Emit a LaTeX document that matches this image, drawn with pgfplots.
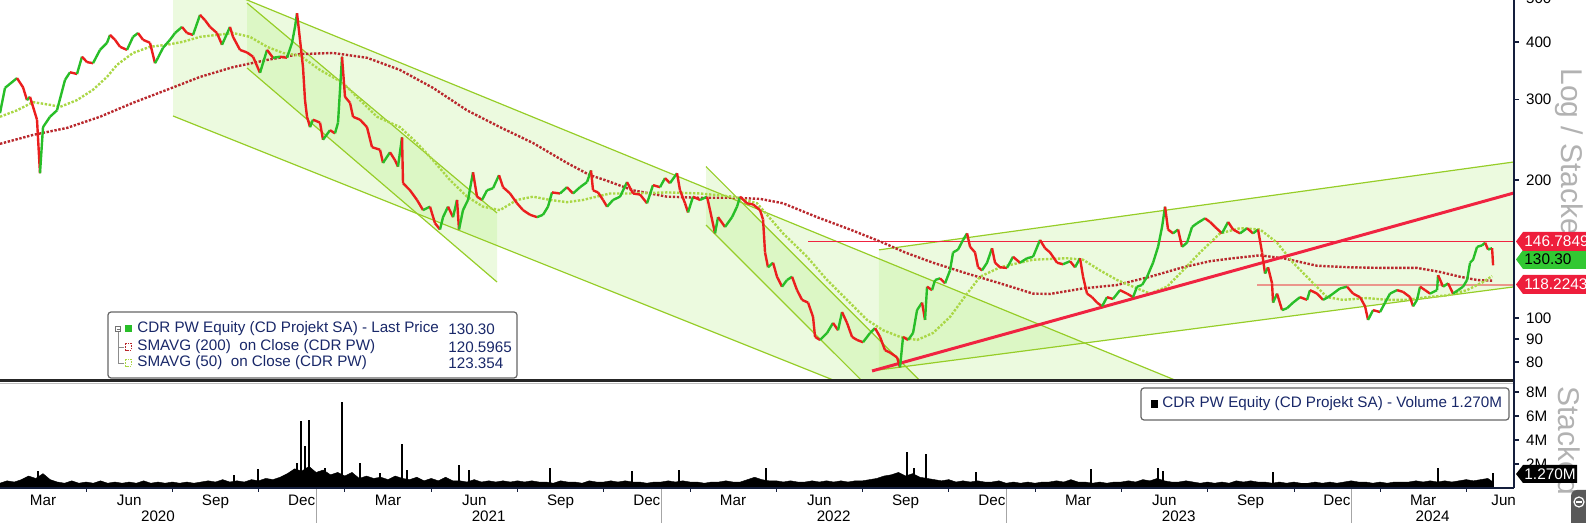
\documentclass[border=0pt]{standalone}
\usepackage{fontspec}
\setmainfont{Liberation Sans}
\usepackage{pgfplots}
\pgfplotsset{compat=1.18}
\usepackage{pgfplotstable}

\definecolor{cgreen}{RGB}{40,190,40}
\definecolor{cred}{RGB}{235,30,30}
\definecolor{smared}{RGB}{185,40,45}
\definecolor{smagreen}{RGB}{170,215,70}
\definecolor{chline}{RGB}{150,205,40}
\definecolor{chfill}{RGB}{150,230,80}
\definecolor{trend}{RGB}{240,35,65}
\definecolor{pinkline}{RGB}{235,150,140}
\definecolor{axisnavy}{RGB}{20,30,60}
\definecolor{legtext}{RGB}{25,40,105}
\definecolor{tagred}{RGB}{238,30,60}
\definecolor{taggreen}{RGB}{50,200,50}

\newcommand\sz{\fontsize{7.6}{9}\selectfont}

% close price, t = months since 1 Jan 2020, m = 1 if next close is higher
\pgfplotstableread{
t p m
1.005 280 1
1.179 318 1
1.596 334 0
1.805 319 0
1.944 299 1
2.048 304 0
2.292 271 0
2.396 207 1
2.501 261 1
2.744 275 1
2.987 284 1
3.266 331 1
3.440 344 0
3.683 341 1
3.857 372 0
4.031 362 0
4.240 360 1
4.483 385 1
4.727 399 1
4.831 415 0
5.005 405 0
5.179 391 0
5.422 385 1
5.631 411 1
5.805 419 0
5.979 405 0
6.222 399 0
6.396 360 1
6.500 370 1
6.674 389 1
6.918 405 1
7.092 419 1
7.335 432 0
7.509 419 0
7.718 415 1
7.961 459 0
8.135 447 0
8.309 432 0
8.552 419 0
8.726 395 1
9.004 432 0
9.109 411 0
9.352 385 0
9.596 380 0
9.805 372 0
10.048 343 1
10.292 385 0
10.500 370 1
10.744 372 0
10.987 370 1
11.161 399 1
11.265 432 1
11.335 463 0
11.439 405 0
11.543 353 0
11.613 299 0
11.683 275 0
11.787 261 1
11.891 271 0
12.135 267 0
12.239 245 1
12.482 257 0
12.656 253 1
12.761 267 1
12.900 372 0
13.004 304 0
13.178 295 0
13.283 275 0
13.526 271 0
13.769 261 0
13.943 236 0
14.221 233 0
14.326 218 1
14.569 230 0
14.743 221 0
14.847 214 1
14.987 248 0
15.021 197 0
15.265 190 0
15.508 181 0
15.717 172 1
15.960 175 0
16.134 161 0
16.308 156 1
16.413 166 1
16.587 175 0
16.761 166 1
16.900 181 0
16.969 156 1
17.108 172 1
17.282 181 1
17.456 208 0
17.595 184 0
17.769 181 1
17.943 190 1
18.152 192 1
18.360 205 0
18.500 193 0
18.743 187 0
18.986 178 0
19.195 172 0
19.438 168 0
19.682 166 1
19.891 168 1
20.064 175 1
20.204 188 0
20.482 187 1
20.725 193 0
20.934 187 1
21.177 193 1
21.421 198 1
21.560 210 0
21.630 190 0
21.804 188 0
21.978 181 0
22.117 175 1
22.326 181 1
22.569 184 1
22.812 198 0
23.021 187 0
23.264 186 0
23.508 178 1
23.716 195 0
23.960 193 1
24.134 202 0
24.308 197 1
24.551 207 0
24.655 190 0
24.829 178 0
24.934 170 1
25.108 184 0
25.351 181 1
25.595 184 0
25.699 172 0
25.873 153 1
25.977 166 0
26.221 158 1
26.464 166 1
26.638 175 1
26.742 184 0
26.986 178 0
27.195 177 0
27.438 172 0
27.543 164 0
27.612 139 0
27.716 129 1
27.890 132 0
28.029 123 0
28.203 117 1
28.377 121 1
28.551 123 0
28.725 115 0
28.899 109.5 0
29.108 108 0
29.282 100.5 0
29.351 90.9 0
29.525 89.5 1
29.769 92.7 1
29.977 97.5 0
30.151 94 1
30.290 103 0
30.464 97.5 0
30.638 90.9 0
30.812 89.5 0
31.021 88.5 1
31.264 92.7 1
31.438 95 0
31.612 90.9 0
31.786 85 0
31.960 84 0
32.203 82 0
32.307 78 1
32.412 90.9 0
32.586 89.5 1
32.760 92.7 1
32.899 104 1
33.073 108 0
33.177 99 1
33.247 117 0
33.420 115 1
33.525 121 1
33.699 122 0
33.873 119 1
34.046 127 1
34.151 139 1
34.325 141 1
34.499 148 1
34.638 153 0
34.742 143 0
34.916 139 0
35.020 129 0
35.159 127 1
35.333 132 1
35.507 142 0
35.611 132 0
35.785 129 0
36.028 128.6 1
36.237 136 0
36.481 132 1
36.724 135 1
36.933 136 1
37.176 148 0
37.350 142 0
37.524 139 0
37.768 132 0
37.976 131 1
38.220 133 0
38.394 129 1
38.567 135 0
38.672 123 0
38.811 113 0
38.985 111 0
39.159 108 0
39.333 106 1
39.506 111 0
39.715 110 1
39.959 115 0
40.202 113 0
40.411 111 1
40.550 117 1
40.724 118 1
40.898 123 1
41.107 132 1
41.281 143 1
41.420 158 1
41.524 175 0
41.628 156 0
41.802 153 1
41.976 156 0
42.115 143 1
42.289 146 1
42.463 158 1
42.637 161 1
42.845 164 1
42.915 165 0
43.089 162 0
43.263 158 0
43.506 153 1
43.715 162 0
43.889 156 0
44.132 153 1
44.376 157 0
44.585 153 1
44.758 156 0
44.897 139 0
45.002 125 1
45.106 129 0
45.245 119 0
45.280 108 1
45.419 113 0
45.593 104 1
45.767 105 1
45.976 108 1
46.219 111 0
46.463 109.5 1
46.567 115 0
46.811 113 0
47.019 109.5 1
47.193 111 1
47.367 113 1
47.610 116 1
47.854 117 0
48.063 113 0
48.306 111 0
48.480 106 0
48.584 99 1
48.758 104 0
49.002 103 1
49.176 108 1
49.349 113 1
49.593 115 0
49.802 114 0
50.045 111 0
50.149 106 1
50.288 109.5 1
50.393 117 0
50.567 115 0
50.740 113 1
50.984 115 1
51.019 124 0
51.193 117 1
51.367 119 0
51.541 113 1
51.715 115 1
51.888 117 1
52.028 121 1
52.132 132 1
52.237 134 1
52.376 143 1
52.550 144 1
52.655 146 0
52.759 141 1
52.898 142 0
52.933 130.3 0
}\price

\pgfplotstableread{
t p
1.005 240
2.153 251
3.335 260
4.483 275
5.631 295
6.814 315
7.961 336
9.109 353
10.292 366
11.439 377
12.587 379
13.769 370
14.917 348
16.065 318
17.248 284
18.395 261
19.543 241
20.725 218
21.525 205
22.050 200
23.021 190
24.204 184
25.351 183
26.499 183
27.438 182
28.238 178
29.421 166
30.569 156
31.717 146
32.482 139
33.455 132
34.638 125
35.785 119
36.933 113
37.524 112.8
38.672 116
39.854 118
41.002 123
42.150 129
43.089 133
43.889 135
44.828 137
45.628 135
46.811 130
47.958 129
49.106 128.6
50.288 128.6
51.088 126
51.784 123
52.376 121
52.898 120.6
}\smaA

\pgfplotstableread{
t p
1.005 275
1.596 284
2.153 296
2.744 292
3.092 289
3.683 299
4.240 315
4.727 336
5.074 357
5.631 379
6.222 391
6.814 395
7.370 401
7.961 411
8.552 415
9.109 419
9.700 411
10.292 391
10.848 379
11.439 374
12.135 348
12.935 326
13.526 299
14.117 275
14.917 261
15.508 241
16.065 221
16.656 200
17.248 184
17.804 175
18.395 172
18.986 181
19.543 184
20.134 181
20.725 179
21.282 181
22.221 187
23.021 187
24.204 188
25.351 187
26.499 184
27.334 178
28.238 153
29.073 136
29.769 121
30.464 109.5
31.160 99
31.717 94
32.307 90.9
32.899 89.5
33.455 92.7
34.046 100.5
34.638 113
35.090 123
35.785 129
36.933 134
38.116 135
38.672 134
39.263 127
39.854 121
40.411 117
41.002 113
41.594 117
42.150 127
42.741 139
43.437 153
44.132 157
44.828 156
45.419 146
45.976 132
46.567 121
47.158 111
47.715 109.5
48.550 110.5
49.245 109.5
49.941 109.5
50.636 111
51.332 112
52.028 115
52.585 119.8
52.898 123.4
}\smaB

% volume, millions
\pgfplotstableread{
t v
1.00 0.4
1.25 0.6
1.50 0.5
1.75 0.7
2.00 1.0
2.25 0.8
2.50 1.2
2.75 0.7
3.00 0.5
3.25 0.4
3.50 0.6
3.75 0.4
4.00 0.5
4.25 0.4
4.50 0.6
4.75 0.4
5.00 0.5
5.25 0.4
5.50 0.5
5.75 0.4
6.00 0.6
6.25 0.4
6.50 0.5
6.75 0.4
7.00 0.5
7.25 0.4
7.50 0.5
7.75 0.4
8.00 0.5
8.25 0.6
8.50 0.5
8.75 0.7
9.00 0.5
9.25 0.6
9.50 0.5
9.75 0.7
10.00 0.6
10.25 0.8
10.50 0.7
10.75 0.9
11.00 1.2
11.25 1.6
11.50 1.4
11.75 1.8
12.00 1.3
12.25 1.5
12.50 1.1
12.75 1.3
13.00 1.0
13.25 1.3
13.50 0.8
13.75 1.0
14.00 0.8
14.25 0.9
14.50 0.7
14.75 1.0
15.00 0.8
15.25 0.7
15.50 0.9
15.75 0.6
16.00 0.8
16.25 0.6
16.50 0.9
16.75 0.6
17.00 0.6
17.25 0.5
17.50 0.7
17.75 0.5
18.00 0.6
18.25 0.5
18.50 0.6
18.75 0.5
19.00 0.6
19.25 0.5
19.50 0.6
19.75 0.5
20.00 0.5
20.25 0.4
20.50 0.6
20.75 0.5
21.00 0.5
21.25 0.4
21.50 0.6
21.75 0.5
22.00 0.5
22.25 0.6
22.50 0.5
22.75 0.6
23.00 0.5
23.25 0.5
23.50 0.4
23.75 0.5
24.00 0.5
24.25 0.6
24.50 0.5
24.75 0.6
25.00 0.5
25.25 0.5
25.50 0.4
25.75 0.5
26.00 0.5
26.25 0.6
26.50 0.5
26.75 0.5
27.00 0.7
27.25 0.9
27.50 0.7
27.75 0.6
28.00 0.6
28.25 0.5
28.50 0.6
28.75 0.5
29.00 0.5
29.25 0.6
29.50 0.5
29.75 0.6
30.00 0.5
30.25 0.6
30.50 0.5
30.75 0.6
31.00 0.6
31.25 0.7
31.50 0.8
31.75 1.0
32.00 1.1
32.25 1.3
32.50 1.0
32.75 1.2
33.00 0.9
33.25 0.8
33.50 0.7
33.75 0.6
34.00 0.7
34.25 0.5
34.50 0.6
34.75 0.5
35.00 0.6
35.25 0.5
35.50 0.5
35.75 0.6
36.00 0.4
36.25 0.5
36.50 0.4
36.75 0.5
37.00 0.4
37.25 0.5
37.50 0.5
37.75 0.6
38.00 0.5
38.25 0.7
38.50 0.5
38.75 0.5
39.00 0.4
39.25 0.5
39.50 0.4
39.75 0.5
40.00 0.5
40.25 0.6
40.50 0.5
40.75 0.7
41.00 0.6
41.25 0.8
41.50 0.6
41.75 0.5
42.00 0.5
42.25 0.6
42.50 0.5
42.75 0.4
43.00 0.5
43.25 0.4
43.50 0.5
43.75 0.4
44.00 0.6
44.25 0.5
44.50 0.6
44.75 0.5
45.00 0.5
45.25 0.4
45.50 0.5
45.75 0.4
46.00 0.5
46.25 0.4
46.50 0.4
46.75 0.5
47.00 0.4
47.25 0.5
47.50 0.4
47.75 0.5
48.00 0.6
48.25 0.5
48.50 0.5
48.75 0.4
49.00 0.5
49.25 0.4
49.50 0.5
49.75 0.5
50.00 0.5
50.25 0.6
50.50 0.5
50.75 0.6
51.00 0.5
51.25 0.6
51.50 0.5
51.75 0.6
52.00 0.7
52.25 0.6
52.50 0.7
52.75 0.8
52.93 0.5
}\vol

\pgfplotstableread{
t v
2.327 1.4
9.144 1.1
9.978 1.6
11.335 2.1
11.474 5.6
11.613 3.5
11.752 5.7
12.309 1.7
12.900 7.2
13.526 2.1
14.221 1.25
14.987 3.7
15.161 1.5
16.969 1.9
17.317 1.5
20.134 1.7
22.986 1.4
24.621 1.5
27.647 1.7
32.551 3.0
32.794 1.7
33.212 2.8
34.951 1.3
38.950 1.6
41.281 1.7
41.455 1.4
45.280 1.3
51.019 1.7
52.933 1.27
}\spikes

\newcommand\pricetag[4]{%
  \fill[#2] (1516,#1) -- (1523,#1-9.5) -- (1600,#1-9.5) -- (1600,#1+9.5) -- (1523,#1+9.5) -- cycle;
  \node[anchor=west, text=#3, inner sep=0pt, font=\fontsize{7.7}{9}\selectfont] at (1524,#1) {#4};}

\begin{document}
\begin{tikzpicture}
\useasboundingbox (0pt,0pt) rectangle (793pt,-261.5pt);

% ---------------- price panel ----------------
\begin{axis}[
  at={(0pt,2pt)}, anchor=north west, scale only axis,
  width=757pt, height=192pt,
  xmin=1.005, xmax=53.66,
  ymode=log, ymin=73.2, ymax=504.8,
  axis x line=none, axis y line*=right,
  axis line style={draw=none},
  ytick={80,90,100,200,300,400,500},
  yticklabels={80,90,100,200,300,400,500},
  yminorticks=false,
  tick align=outside, major tick length=2.5pt,
  ytick style={axisnavy, line width=0.8pt},
  yticklabel style={font=\sz, text=black},
  colormap={rg}{rgb255=(235,30,30) rgb255=(40,190,40)},
  point meta min=0, point meta max=1,
]
% trend channels
\addplot[draw=none, fill=chfill, fill opacity=0.18] coordinates {
  (7.022,520.3) (8.747,520.3) (43.56,66.2) (31.716,66.2) (7.022,276.1)} -- cycle;
\addplot[draw=none, fill=chfill, fill opacity=0.18] coordinates {
  (9.596,487.2) (18.291,169.5) (18.291,119.8) (9.596,351.5)} -- cycle;
\addplot[draw=none, fill=chfill, fill opacity=0.18] coordinates {
  (25.56,214) (33.665,66.2) (31.647,66.2) (25.56,159.6)} -- cycle;
\addplot[draw=none, fill=chfill, fill opacity=0.18] coordinates {
  (31.575,140.8) (53.66,219.1) (53.66,116.9) (31.575,77.0)} -- cycle;

\addplot[chline, line width=0.6pt] coordinates {(8.747,520.3) (43.56,66.2)};
\addplot[chline, line width=0.6pt] coordinates {(7.022,276.1) (31.716,66.2)};
\addplot[chline, line width=0.6pt] coordinates {(9.596,487.2) (18.291,169.5)};
\addplot[chline, line width=0.6pt] coordinates {(9.596,351.5) (18.291,119.8)};
\addplot[chline, line width=0.6pt] coordinates {(25.56,214) (33.665,66.2)};
\addplot[chline, line width=0.6pt] coordinates {(25.56,159.6) (31.647,66.2)};
\addplot[chline, line width=0.6pt] coordinates {(31.575,140.8) (53.66,219.1)};
\addplot[chline, line width=0.6pt] coordinates {(31.575,77.0) (53.66,116.9)};

% horizontal levels
\addplot[trend, line width=0.8pt] coordinates {(29.107,146.7849) (53.66,146.7849)};
\addplot[pinkline, line width=1pt] coordinates {(44.725,118.2243) (53.66,118.2243)};

% moving averages
\addplot[smared, line width=1.2pt, dash pattern=on 1.2pt off 0.8pt] table[x=t,y=p] {\smaA};
\addplot[smagreen, line width=1.2pt, dash pattern=on 1.2pt off 0.8pt] table[x=t,y=p] {\smaB};

% support line
\addplot[trend, line width=1.5pt] coordinates {(31.335,76.6) (53.66,187.5)};

% price
\addplot[mesh, shader=flat corner, line width=1.2pt, point meta=\thisrow{m}] table[x=t,y=p] {\price};
\end{axis}

% ---------------- volume panel ----------------
\begin{axis}[
  at={(0pt,-192pt)}, anchor=north west, scale only axis,
  width=757pt, height=52pt,
  xmin=1.005, xmax=53.66, ymin=0, ymax=8.67,
  axis x line*=bottom, axis y line*=right,
  axis line style={draw=none},
  ytick={2,4,6,8}, yticklabels={2M,4M,6M,8M},
  xtick={2.5,5.5,8.5,11.5,14.5,17.5,20.5,23.5,26.5,29.5,32.5,35.5,38.5,41.5,44.5,47.5,50.5,53.3},
  xticklabels={Mar,Jun,Sep,Dec,Mar,Jun,Sep,Dec,Mar,Jun,Sep,Dec,Mar,Jun,Sep,Dec,Mar,Jun},
  extra x ticks={6.5,18,30,42,50.83},
  extra x tick labels={2020,2021,2022,2023,2024},
  extra x tick style={tick label style={yshift=-7.75pt}},
  tick align=outside, major tick length=2.5pt,
  xtick style={draw=none},
  ytick style={axisnavy, line width=0.8pt},
  ticklabel style={font=\sz, text=black},
  xticklabel style={yshift=2.5pt},
]
\addplot[fill=black, draw=black, line width=0.2pt] table[x=t,y=v] {\vol} \closedcycle;
\addplot[ycomb, black, line width=0.7pt] table[x=t,y=v] {\spikes};
\end{axis}

\begin{scope}[x=0.5pt,y=-0.5pt]
% axis lines and separators
\fill[black!85] (0,379.5) rectangle (1514,382);
\draw[gray!50, line width=0.5pt] (0,383.5) -- (1514,383.5);
\draw[axisnavy, line width=0.8pt] (1514,0) -- (1514,488);
\draw[axisnavy, line width=0.8pt] (0,488) -- (1514,488);
\foreach \t in {4,7,...,52} \draw[axisnavy, line width=0.5pt] ({(\t-1.005)/0.03478},488) -- ++(0,4);
\foreach \t in {12,24,36,48} \draw[gray!70, line width=0.5pt] ({(\t-1.005)/0.03478},489) -- ++(0,40);

% side labels
\node[rotate=-90, anchor=west, text=black!30, font=\fontsize{15}{15}\selectfont, inner sep=0pt] at (1569,68) {Log / Stacked};
\node[rotate=-90, anchor=west, text=black!30, font=\fontsize{15}{15}\selectfont, inner sep=0pt] at (1569,386) {Stacked};

% value tags
\pricetag{284.5}{tagred}{white}{118.2243}
\pricetag{259.5}{taggreen}{black}{130.30}
\pricetag{241.5}{tagred}{white}{146.7849}
\fill[black] (1516,474) -- (1523,465) -- (1577,465) -- (1577,483) -- (1523,483) -- cycle;
\node[anchor=west, text=white, inner sep=0pt, font=\fontsize{7.7}{9}\selectfont] at (1524,474) {1.270M};

% corner button
\fill[black!65, rounded corners=3pt] (1571,490) rectangle (1600,540);
\draw[white, line width=0.6pt] (1579,502) circle (5);
\draw[white, line width=0.8pt] (1576,502) -- (1582,502);

% price legend
\draw[black!60, fill=white, rounded corners=1.5pt, line width=0.6pt] (108,312) rectangle (517,378);
\draw[black!45, line width=0.4pt] (118,331.5) -- (118,363) -- (124,363);
\draw[black!45, line width=0.4pt] (118,347) -- (124,347);
\draw[black!55, fill=white, line width=0.4pt] (115.5,326.5) rectangle (120.5,331.5);
\draw[black!55, line width=0.4pt] (116.5,329) -- (119.5,329);
\fill[cgreen] (125,325.5) rectangle (132,332.5);
\draw[smared, line width=0.5pt, dash pattern=on 0.8pt off 0.6pt] (125.5,343.5) rectangle (131.5,350.5);
\draw[smagreen, line width=0.5pt, dash pattern=on 0.8pt off 0.6pt] (125.5,359.5) rectangle (131.5,366.5);
\begin{scope}[every node/.style={anchor=west, inner sep=0pt, text=legtext, font=\sz}]
\node at (137,329) {CDR PW Equity (CD Projekt SA) - Last Price};
\node at (448,329) {130.30};
\node at (137,347) {SMAVG (200)\ \ on Close (CDR PW)};
\node at (448,347) {120.5965};
\node at (137,363) {SMAVG (50)\ \ on Close (CDR PW)};
\node at (448,363) {123.354};
\end{scope}

% volume legend
\draw[black!60, fill=white, rounded corners=1.5pt, line width=0.6pt] (1141,388) rectangle (1509,420);
\fill[black] (1151,400) rectangle (1158,408);
\node[anchor=west, inner sep=0pt, text=legtext, font=\sz] at (1162,404) {CDR PW Equity (CD Projekt SA) - Volume 1.270M};
\end{scope}
\end{tikzpicture}
\end{document}
